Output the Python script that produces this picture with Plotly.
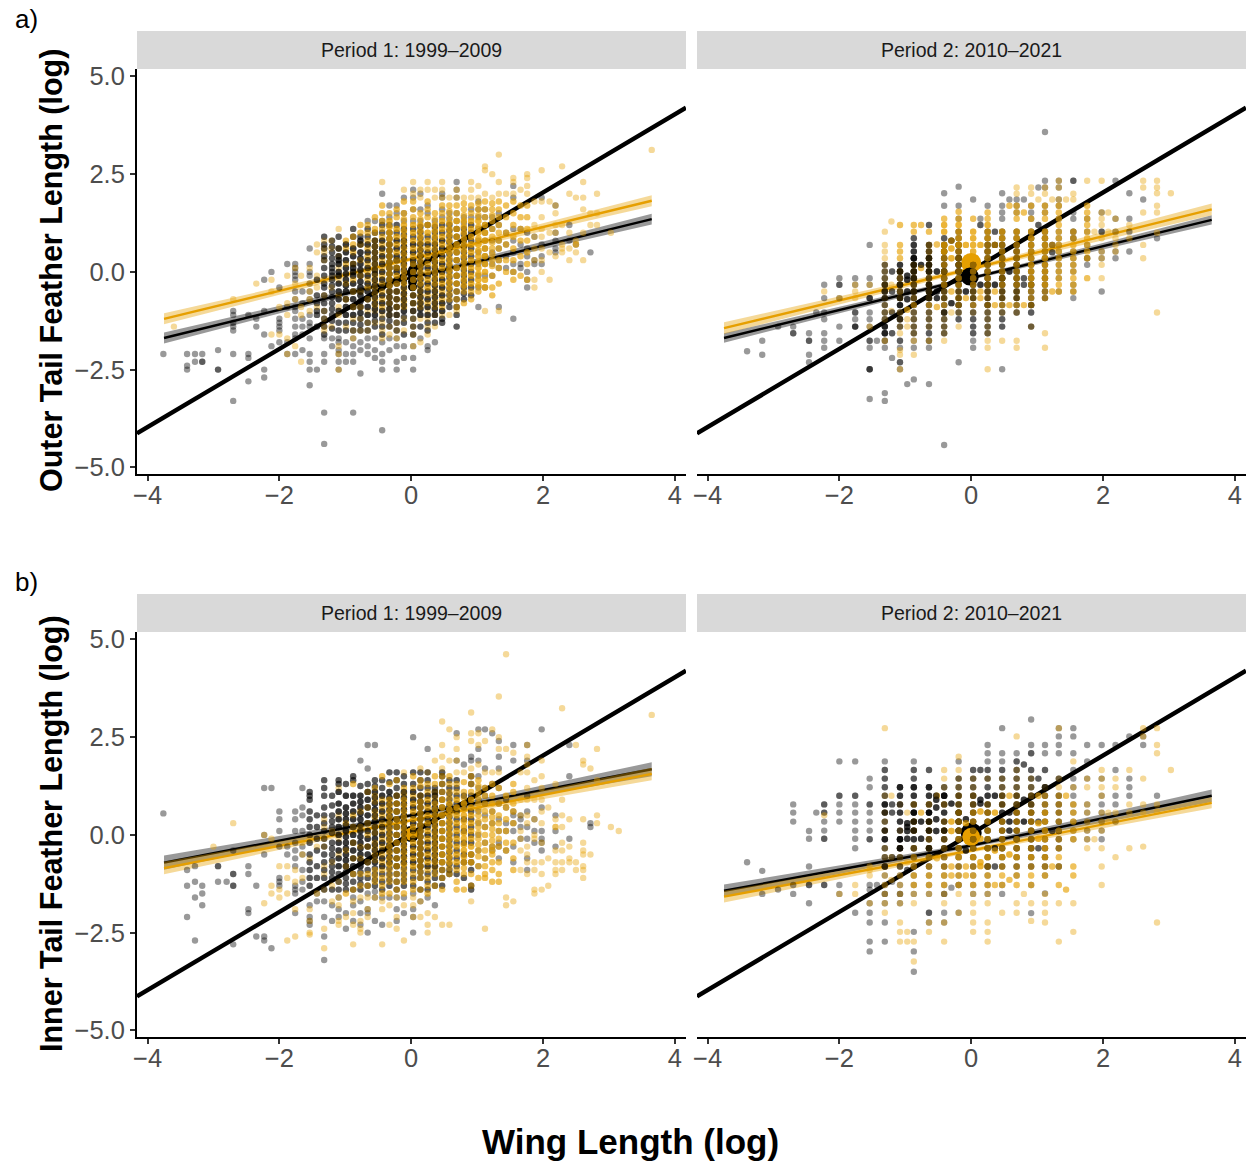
import plotly.graph_objects as go

FIT_X = [-3.75, 0, 3.65]
LINE_X = [-4.16, 4.17]
LINE_Y = [-4.13, 4.2]
XTICKS = [-4, -2, 0, 2, 4]
XTEXT = ["−4", "−2", "0", "2", "4"]
YTICKS = [5, 2.5, 0, -2.5, -5]
YTEXT = ["5.0", "2.5", "0.0", "−2.5", "−5.0"]
STRIPS = ["Period 1: 1999–2009", "Period 2: 2010–2021"]

A1_ORANGE_FIT = [-1.2, 0.33, 1.82]
A1_ORANGE_HW = [0.14, 0.05, 0.14]
A1_BLACK_FIT = [-1.69, -0.14, 1.35]
A1_BLACK_HW = [0.14, 0.05, 0.14]
A2_ORANGE_FIT = [-1.44, 0.08, 1.6]
A2_ORANGE_HW = [0.15, 0.05, 0.15]
A2_BLACK_FIT = [-1.69, -0.16, 1.33]
A2_BLACK_HW = [0.12, 0.04, 0.12]
B1_ORANGE_FIT = [-0.85, 0.38, 1.56]
B1_ORANGE_HW = [0.16, 0.05, 0.16]
B1_BLACK_FIT = [-0.71, 0.5, 1.68]
B1_BLACK_HW = [0.18, 0.05, 0.18]
B2_ORANGE_FIT = [-1.58, -0.4, 0.82]
B2_ORANGE_HW = [0.15, 0.05, 0.14]
B2_BLACK_FIT = [-1.43, -0.27, 1.0]
B2_BLACK_HW = [0.16, 0.05, 0.16]

A1_BLACK = {
-3.76:[-2.1],-3.40:[-2.1,-2.4,-2.5],-3.28:[-2.1,-2.3],-3.17:[-2.1,-2.3,-2.3],-2.93:[-2.0,-2.5,-2.5],
-2.70:[-1.0,-1.1,-1.3,-1.4,-1.5,-2.1,-3.3],-2.47:[-1.1,-2.1,-2.2,-2.8],-2.35:[-1.2,-1.4],-2.23:[-.2,-1.0,-1.6,-2.5,-2.7],
-2.12:[0.0,-1.9],-2.0:[-.4,-1.2,-1.3,-1.4,-1.5,-1.8],-1.88:[.2,-.9,-1.8,-2.1],
-1.76:[.2,.1,0,-.1,-.2,-.5,-.7,-.9,-1.0,-1.2,-1.4,-1.6,-1.7,-2.1],-1.65:[-.5,-.8,-1.2,-1.4,-1.6,-2.0],
-1.54:[.6,.2,.0,-.1,-.3,-.5,-.7,-1.1,-1.3,-1.4,-1.7,-2.1,-2.3,-2.5,-2.9],-1.43:[-.2,-.6,-.8,-1.0,-1.1,-1.4,-2.5],
-1.32:[.9,.7,.6,.4,.3,.1,-.1,-.3,-.4,-.6,-.8,-1.0,-1.2,-1.4,-1.6,-1.7,-2.1,-2.3,-3.6,-4.4],
-1.2:[.8,.5,.2,0,-.2,-.5,-.8,-1.1,-1.7,-1.9],
-1.1:[.9,.6,.4,.3,.2,.0,-.1,-.3,-.5,-.7,-1.0,-1.3,-1.5,-1.7,-1.8,-2.0,-2.1,-2.3,-2.5],
-.99:[.5,.3,-.2,-.5,-.9,-1.3,-1.8,-2.1,-2.3],
-.88:[1.1,.9,.6,.4,.2,.1,0,-.1,-.3,-.5,-.7,-.9,-1.1,-1.3,-1.5,-1.7,-1.9,-2.1,-2.3,-3.6],
-.77:[.9,.7,.5,.2,-.1,-.4,-.6,-.9,-1.2,-1.5,-1.8,-2.0,-2.6],
-.66:[1.3,1.1,.9,.7,.5,.3,.1,-.1,-.3,-.5,-.7,-.9,-1.1,-1.3,-1.5,-1.7,-1.9,-2.1],
-.55:[1.3,.8,.5,.2,-.2,-.5,-.8,-1.1,-1.4,-1.7,-2.0,-2.2],
-.44:[2.0,1.3,1.2,1.0,.8,.6,.4,.2,0,-.2,-.4,-.6,-.8,-1.0,-1.2,-1.4,-1.6,-1.8,-2.1,-2.3,-2.5,-4.05],
-.33:[1.7,1.4,1.0,.7,.4,.1,-.2,-.5,-.8,-1.1,-1.4,-1.7,-2.0],
-.22:[1.7,1.5,1.2,1.0,.8,.6,.4,.3,.1,0,-.2,-.3,-.5,-.7,-.9,-1.1,-1.3,-1.5,-1.7,-1.9,-2.3,-2.5],
-.11:[1.9,1.5,1.1,.8,.5,.2,-.1,-.4,-.7,-1.0,-1.3,-1.6,-1.9,-2.2],
0.03:[2.1,1.9,1.6,1.3,1.1,.9,.7,.5,.3,.2,0,-.2,-.4,-.6,-.8,-1.0,-1.2,-1.4,-1.6,-1.9,-2.2,-2.5],
.14:[2.0,1.6,1.3,1.0,.7,.4,.1,-.2,-.5,-.8,-1.1,-1.4,-1.7],
.25:[1.7,1.5,1.2,.9,.7,.5,.3,.1,-.1,-.3,-.5,-.7,-.9,-1.1,-1.3,-1.5,-1.9,-2.0],
.36:[1.3,1.0,.7,.4,.1,-.2,-.5,-.8,-1.1,-1.3,-1.8],
.47:[2.0,1.9,1.6,1.4,1.2,1.0,.8,.6,.4,.2,0,-.2,-.4,-.6,-.8,-1.0,-1.2,-1.3],
.58:[1.5,1.2,.9,.6,.3,0,-.3,-.6,-.9],
.69:[2.3,2.1,1.9,1.5,1.3,1.1,.9,.7,.5,.3,.1,-.1,-.3,-.5,-.7,-.9,-1.1,-1.4],
.80:[1.4,1.1,.8,.5,.2,-.1,-.4,-.7],
.91:[1.6,1.4,1.2,1.0,.8,.6,.4,.2,0,-.2,-.4,-.6],
1.02:[1.8,1.6,1.4,1.1,.8,.5,.2,-.1,-.4,-.9],
1.12:[1.6,1.4,1.2,1.0,.8,.6,.4,.2,-.1,-.4],
1.23:[1.4,1.1,.8,.5,.2,-.1],1.33:[1.5,1.2,.8,.6,.3,.1,-.9],1.44:[1.0,.7,.4,.1],
1.55:[2.2,1.9,1.1,.8,.5,.2,.0,-1.2],1.66:[1.1,.7,.2,.1],1.76:[1.0,.6,.4,.0,-.2,-.4],1.87:[.9,.3,.2],
1.98:[1.9,.7,.4,.2],2.19:[1.7,1.0,.8,.6,.5],2.4:[1.2,.8],2.5:[.7],2.72:[.5],
}
A1_BLACK_CORE = {
-1.2:[.65,.35,.1,-.1,-.35,-.65,-.95,-1.25,-1.45],-.99:[.7,.1,-.05,-.35,-.7,-1.1,-1.5],-.77:[.8,.35,.05,-.25,-.5,-.75,-1.05,-1.35],
-.55:[1.0,.65,.35,.05,-.05,-.35,-.65,-.95,-1.25],-.33:[1.2,.85,.55,.25,-.05,-.35,-.65,-.95,-1.25],-.11:[1.3,.95,.65,.35,.05,-.25,-.55,-.85,-1.15],
.14:[1.15,.85,.55,.25,-.05,-.35,-.65,-.95],.36:[1.15,.85,.55,.25,-.05,-.35,-.65,-.95],.58:[1.35,1.05,.75,.45,.15,-.15,-.45,-.75],
.80:[1.25,.95,.65,.35,.05,-.25,-.55],
}
A1_ORANGE = {
-3.6:[-1.4],-2.7:[-.7],-2.35:[-.3],-2.12:[-.2,-.5,-1.6],-2.0:[-.9,-1.6],-1.88:[-.1,-.8,-1.1,-1.7,-2.1],-1.76:[.1,-.3,-.7,-1.9],
-1.67:[-.9,-.1,-1.1,-2.3],-1.54:[.1,-.3,-.5,-.7,-1.0],-1.43:[.7,.5,-.1,-.4,-.9],-1.32:[.8,.6,.5,.3,-.2,-.6,-1.0,-1.2,-1.4,-1.5],
-1.21:[.8,.6,-.4,-1.4],-1.1:[1.1,.6,.4,.1,-.2,-.6,-.9,-1.1,-1.9,-2.1,-2.5],-.99:[.8,.6,.2,-.3,-.7,-1.4],
-.88:[.9,.7,.5,.2,-.2,-.5,-.9,-1.2,-1.5,-1.7],-.77:[1.2,1.0,.7,.3,-.1,-.5,-.9,-1.2,-1.5],-.66:[1.2,1.0,.8,.6,.4,.2,0,-.2,-.4,-.7,-1.0,-1.3,-1.5],
-.55:[1.4,1.1,.8,.5,.2,-.1,-.4,-.7,-1.0,-1.3],-.44:[2.3,1.7,1.5,1.3,1.1,.9,.7,.5,.3,.1,-.1,-.3,-.5,-.7,-.9,-1.1,-1.3,-1.5,-1.7],
-.33:[1.5,1.3,1.0,.7,.4,.1,-.2,-.5,-.8,-1.1,-1.4,-1.6],-.22:[1.6,1.4,1.1,.9,.7,.5,.3,.1,-.1,-.3,-.5,-.7,-.9,-1.1,-1.3,-1.5,-1.7],
-.11:[2.1,1.8,1.5,1.2,.9,.6,.3,0,-.3,-.6,-.9,-1.2,-1.5],0.03:[2.3,2.0,1.8,1.6,1.4,1.2,1.0,.8,.6,.4,.2,0,-.2,-.4,-.6,-.8,-1.0,-1.2,-1.4,-1.6,-1.9],
.14:[2.1,1.9,1.5,1.2,.9,.6,.3,0,-.3,-.6,-.9,-1.2,-1.8],.25:[2.3,2.1,1.8,1.6,1.4,1.2,1.0,.8,.6,.4,.2,0,-.2,-.4,-.6,-.8,-1.0,-1.2,-1.4,-1.6],
.36:[2.1,1.9,1.5,1.2,.9,.6,.3,0,-.3,-.6,-.9,-1.1,-1.4],.47:[2.3,2.1,1.9,1.7,1.5,1.3,1.1,.9,.7,.5,.3,.1,-.1,-.3,-.5,-.7,-.9,-1.1],
.58:[1.9,1.7,1.4,1.1,.8,.5,.2,-.1,-.4,-.7,-1.1],.69:[2.1,1.9,1.7,1.5,1.3,1.1,.9,.7,.5,.3,.1,-.1,-.3,-.5,-.7,-.9,-1.0],
.80:[1.9,1.6,1.3,1.0,.7,.4,.1,-.2,-.5,-.8],.91:[2.3,2.1,1.9,1.7,1.5,1.3,1.1,.9,.7,.5,.3,.1,-.1,-.3,-.5,-.7],
1.02:[2.2,1.9,1.6,1.3,1.0,.7,.4,.1,-.2,-.5],1.12:[2.7,2.6,2.0,1.8,1.6,1.4,1.2,1.0,.8,.6,.4,.2,0,-.2,-.4,-1.0],
1.23:[2.5,1.9,1.6,1.3,.9,.6,.3,-.1,-.4,-.6],1.33:[3.0,2.3,2.0,1.8,1.6,1.4,1.2,1.0,.8,.6,.3,.1,-.3,-1.0],
1.44:[2.0,1.7,1.4,1.0,.7,.3,.0],1.55:[2.4,2.3,2.0,1.8,1.5,1.2,.9,.6,.3,0,-.2],1.66:[2.1,1.7,1.4,1.1,.8,.4,-.1],
1.76:[2.5,2.4,2.2,2.0,1.7,1.4,1.1,.8,.5,.2,-.2],1.87:[1.8,1.2,.9,.6,.3,-.4,-.2],1.98:[2.6,1.8,1.4,1.1,.9,.6,.3,0],
2.1:[1.8,1.0,.5,-.2],2.19:[1.7,1.5,1.2,1.0,.4],2.29:[2.7,1.2,.7,.6,.5],2.4:[2.0,1.0,.6,.3],2.5:[1.9,.8,.7,.7,.5],
2.61:[2.3,1.9,1.6,1.0,.3],2.72:[1.5,1.2],2.82:[2.0,1.5,1.2],3.03:[1.0],3.65:[3.12],
}
A1_ORANGE_CORE = {
-.55:[1.0,.65,.35,.05,-.25,-.55,-.85],-.33:[1.15,.85,.55,.25,-.05,-.35,-.65,-.95],-.11:[1.35,1.05,.75,.45,.15,-.15,-.45,-.75],
.14:[1.35,1.05,.75,.45,.15,-.15,-.45,-.75],.36:[1.35,1.05,.75,.45,.15,-.15,-.45,-.75],.58:[1.55,1.25,.95,.65,.35,.05,-.25,-.55],
.80:[1.75,1.45,1.15,.85,.55,.25,-.05,-.35],1.02:[1.75,1.45,1.15,.85,.55,.25,-.05,-.35],1.23:[1.75,1.45,1.1,.75,.45,.15],
}
A2_BLACK = {
-3.4:[-2.03],-3.17:[-1.76,-2.12],-2.93:[-1.4],-2.7:[-1.4,-1.57,-1.57],-2.46:[-1.57,-1.76,-1.76,-2.12,-2.31],-2.35:[-1.04],
-2.23:[-.33,-.67,-1.04,-1.21,-1.57,-1.76,-1.94],-2.0:[-.16,-.33,-.33,-.67,-1.4,-1.76],
-1.76:[-.16,-.33,-1.04,-1.04,-1.21,-1.4,-1.4,-1.4],-1.54:[.69,-.16,-.33,-.67,-.67,-.67,-1.04,-1.21,-1.4,-1.76,-1.76,-1.94,-2.49,-2.49,-2.49,-3.25],
-1.43:[-1.76],-1.31:[.18,.01,-.16,-.33,-.33,-.5,-.5,-.67,-.67,-.85,-1.04,-1.21,-1.4,-1.4,-1.57,-1.57,-1.76,-1.76,-1.94,-3.1,-3.3],
-1.2:[.01,-.5,-1.04,-1.57,-2.2],-1.08:[.01,.01,.18,-.16,-.33,-.33,-.5,-.67,-.67,-.85,-.85,-1.04,-1.21,-1.21,-1.4,-1.76,-1.76,-1.94,-2.31,-2.31,-2.49],
-.97:[-.1,-.2,-.5,-.7,-2.87],-.87:[.86,.69,.52,.35,.35,.18,.18,.01,.01,-.16,-.16,-.33,-.5,-.5,-.67,-.85,-1.04,-1.21,-1.4,-1.57,-1.76,-1.94,-2.75],
-.76:[.18],-.64:[1.2,.69,.52,.35,.35,.18,.18,.01,.01,-.16,-.33,-.33,-.5,-.5,-.67,-.67,-.85,-1.04,-1.21,-1.4,-1.57,-1.76,-1.76,-1.94,-2.87],
-.52:[-.67,.01,-.5],-.41:[2.01,1.69,.86,.69,.52,.35,.18,.01,.01,-.16,-.33,-.5,-.67,-.85,-1.04,-1.04,-1.21,-1.4,-1.57,-4.43],
-.3:[.8,-.8],-.19:[2.18,1.69,1.36,1.03,.86,.69,.52,.35,.35,.18,.18,.01,.01,-.16,-.33,-.5,-.67,-.85,-.85,-1.04,-1.21,-2.31],
-.08:[-.5],.03:[1.85,.18,.01,-.16,-.33,-.5,-.67,-.85,-1.04,-1.21,-1.4,-1.57,-1.76,-1.94],
.14:[1.36,1.2,-.33],.25:[1.69,1.03,.86,.69,.52,.35,.18,.01,-.16,-.33,-.33,-.5,-.67,-.85,-.85,-1.04,-1.21,-1.4,-1.57],
.36:[1.03,.69,-.33],.47:[2.01,1.69,1.52,1.36,1.03,.86,.69,.52,.35,.18,.01,-.16,-.16,-.33,-.5,-.67,-.85,-1.04,-1.21,-1.4,-2.49],
.58:[1.85,.01],.69:[1.85,1.69,1.52,1.03,.86,.69,.52,.35,.18,.01,-.16,-.33,-.5,-.67,-.85,-1.04],.8:[1.85,-.33,-.16],
.91:[1.69,1.52,1.36,1.03,.86,.69,.52,.35,.18,.01,-.16,-.33,-.33,-.5,-.67,-.85,-.85,-1.04,-1.4],1.02:[2.16,1.2],
1.12:[3.58,2.33,2.16,1.69,1.52,1.03,.86,.69,.52,.35,.18,.01,-.16,-.33,-.5,-.67],1.23:[.5,.69],
1.33:[2.33,2.16,1.85,1.69,1.36,1.03,.86,.69,.52,.35,.18,.01,-.16,-.5],1.55:[2.33,2.33,1.52,1.36,1.03,1.03,.86,.86,.52,.35,.18,.01,-.33,-.5,-.67],
1.76:[1.36,1.03,.69,.35,.35,.18],1.98:[1.52,1.03,1.03,.52,.35,-.5],2.19:[2.33,1.36,1.03,.52,.35],2.4:[2.01,1.36,1.03,.52],2.61:[1.85],2.82:[.86],
}
A2_ORANGE = {
-2.23:[-.5],-2.0:[-.67],-1.76:[-.33,-.5,-.67],-1.54:[-.33,-1.4],-1.31:[1.03,.69,.52,.35,.18,.01,-.16,-.33,-.33,-.5,-.67,-.85,-1.04,-1.21,-1.76],
-1.21:[1.29,-.33,-1.0],-1.08:[1.2,.69,.52,.35,.01,-.16,-.33,-.5,-.67,-1.04,-1.21,-1.4,-1.57,-2.0,-2.12,-2.49],
-.97:[-.97,-1.21,-1.4],-.87:[1.2,1.03,.18,.01,-.16,-.33,-.5,-.67,-.85,-1.04,-1.21,-1.4,-1.57,-1.76,-2.12],-.76:[1.2,.1],
-.64:[1.03,.69,.52,.35,.18,.01,-.16,-.33,-.5,-.67,-.85,-1.04,-1.21,-1.4,-1.76],-.52:[.7,-.9],
-.41:[1.36,1.2,1.03,.69,.69,.52,.52,.35,.18,.01,-.16,-.33,-.5,-.67,-.85,-1.04,-1.21,-1.4,-1.57,-1.76],-.3:[.8,.6,.35,-.5,-1.04],
-.19:[1.54,1.36,1.2,1.03,.86,.69,.69,.52,.35,.18,.01,-.16,-.33,-.5,-.67,-.67,-.85,-1.04,-1.4],-.08:[.69,-.67],
.03:[1.36,1.03,.86,.69,.52,.35,.18,.01,-.16,-.33,-.5,-.67,-.85,-1.04],.14:[.69,-.5,-.67],
.25:[1.52,1.36,1.2,1.03,.86,.69,.52,.35,.18,.01,-.16,-.33,-.5,-.67,-.85,-1.04,-1.21,-1.4,-1.57,-1.76,-1.94,-2.49],.36:[.69,-.5,-.85],
.47:[1.03,.86,.69,.52,.35,.18,.01,-.16,-.33,-.5,-.67,-.85,-1.04,-1.76],.58:[1.69,-.85],
.69:[2.16,2.0,1.69,1.52,1.36,1.03,.86,.69,.52,.35,.18,.01,-.16,-.33,-.5,-.67,-.85,-1.04,-1.76,-1.94],.8:[1.52,-.85],
.91:[2.16,2.0,1.69,1.36,1.03,.86,.69,.52,.35,.18,.01,-.16,-.33,-.5,-.67,-.85,-1.4],1.02:[1.85],
1.12:[2.16,2.0,1.69,1.52,1.36,1.03,.86,.69,.52,.35,.18,.01,-.16,-.33,-.5,-.67,-1.57,-1.94],1.23:[1.85,.69,-.5],
1.33:[2.33,2.16,1.85,1.69,1.52,1.36,1.2,1.03,.86,.69,.52,.35,.18,.01,-.16,-.33,-.5],1.44:[1.85],
1.55:[2.0,1.85,1.03,.86,.69,.52,.35,.18,.01,-.16,-.33,-.5],1.76:[2.33,1.69,1.52,1.36,1.2,1.03,.86,.69,.52,.35,-.16],
1.87:[1.03],1.98:[2.33,1.52,1.36,1.2,.86,.52,.35,.18,-.16],2.08:[1.52,1.03],2.19:[1.36,1.03,.86,.69,.52],
2.4:[1.2,.86],2.61:[2.33,2.16,1.52,.69,.35],2.82:[2.33,2.16,2.01,1.69,1.52,1.0,-1.04],3.03:[2.01],
}
B1_BLACK = {
-3.76:[.55],-3.4:[-.9,-1.3,-2.1],-3.28:[-.8,-1.2,-1.6,-2.7],-3.17:[-1.3,-1.5,-1.8],-2.93:[-.8,-.8,-1.2],-2.8:[-1.2],-2.7:[-.4,-1.0,-1.0,-1.3,-1.3,-2.8],
-2.47:[-.8,-1.0,-1.9,-2.0],-2.35:[-1.3,-2.6],-2.23:[1.2,0,-.5,-2.6,-2.7],-2.12:[1.2,-2.9],-2.0:[.6,.4,.1,-.3,-1.1,-1.2,-1.3],
-1.88:[-.3,-.5],-1.76:[.6,.4,.1,-.2,-.4,-.6,-.8,-1.3,-1.4,-1.5,-2.0],
-1.65:[1.2,.7,.5,.1,-.3,-.5,-.9,-1.2,-1.4],-1.54:[1.1,1.0,.9,.6,.4,.2,.0,-.2,-.5,-.7,-.9,-1.1,-1.3,-1.8,-2.1,-2.2,-2.3],
-1.43:[.5,.2,-.1,-.4,-.8,-1.1,-1.5,-1.7],-1.32:[1.4,1.2,1.0,.7,.5,.3,.1,-.1,-.3,-.5,-.7,-.9,-1.1,-1.4,-1.7,-2.1,-2.6,-3.2],
-1.2:[.5,.2,-.2,-.5,-.8,-1.1,-1.4,-1.8,-2.2],-1.1:[1.4,1.3,1.1,.8,.6,.4,.2,0,-.2,-.4,-.6,-.8,-1.0,-1.2,-1.4,-1.6,-1.9,-2.1],
-.99:[1.3,.7,.4,.1,-.2,-.5,-.8,-1.1,-1.4,-2.0,-2.4],-.88:[1.5,1.4,1.0,.8,.6,.4,.2,0,-.2,-.4,-.6,-.8,-1.0,-1.2,-1.4,-1.6,-1.8,-2.2],
-.77:[1.9,1.0,.7,.4,.1,-.2,-.5,-.8,-1.1,-1.4,-1.7,-2.0,-2.3],-.66:[2.3,1.7,1.3,1.1,.9,.7,.5,.3,.1,-.1,-.3,-.5,-.7,-.9,-1.1,-1.3,-1.5,-1.9,-2.0,-2.5],
-.55:[2.3,1.4,1.1,.8,.5,.2,-.1,-.4,-.7,-1.0,-1.3,-1.6,-2.2],-.44:[1.4,1.2,1.0,.8,.6,.4,.2,0,-.2,-.4,-.6,-.8,-1.0,-1.2,-1.4,-1.6,-2.3],
-.33:[1.6,1.1,.8,.5,.2,-.1,-.4,-.7,-1.0,-1.3,-1.6],-.22:[1.6,1.4,1.2,1.0,.8,.6,.4,.2,0,-.2,-.4,-.6,-.8,-1.0,-1.2,-1.4,-1.6,-1.9,-2.2],
-.11:[1.5,1.1,.8,.5,.2,-.1,-.4,-.7,-1.0,-1.3,-1.6,-2.0],0.03:[2.5,1.6,1.3,1.1,.9,.7,.5,.3,.1,-.1,-.3,-.5,-.7,-.9,-1.1,-1.3,-1.5,-1.9,-2.1,-2.5],
.14:[1.6,1.4,1.0,.7,.4,.1,-.2,-.5,-.8,-1.1,-1.4,-1.7],.25:[2.2,1.6,1.4,1.2,1.0,.8,.6,.4,.2,0,-.2,-.4,-.6,-.8,-1.0,-1.2,-1.4,-1.6],
.36:[1.2,1.0,.7,.4,.1,-.2,-.5,-.8,-1.1,-1.3,-1.8],.47:[1.6,1.5,1.3,1.1,.9,.7,.5,.3,.1,-.1,-.3,-.5,-.7,-.9,-1.1,-1.3],
.58:[1.4,1.2,.9,.6,.3,0,-.3,-.6,-.9,-1.0],.69:[2.6,1.9,1.4,1.2,1.0,.8,.6,.4,.2,0,-.2,-.4,-.6,-.8,-1.0],
.80:[1.8,1.0,.7,.4,.1,-.2,-.5,-.7,-1.1],.91:[2.0,1.9,1.5,1.3,1.0,.8,.6,.4,.2,0,-.2,-.5,-.7,-.9,-1.3,-1.4],
1.02:[2.7,2.2,1.9,1.5,1.2,.9,.6,.3,0,-.4,-.8],1.12:[2.7,1.7,1.2,1.0,.8,.5,.2,-.2,-.6],1.23:[2.6,1.3,.6,.3,-.3,-.4],1.33:[2.4,2.0,1.7,1.2,.8,.4,.1,-.2,-.3,-.6],
1.44:[.9,.7,.3,.1,-.4],1.55:[2.3,1.9,.6,.5,.3,.1,-.3,-.7],1.66:[.5,.4,.2,-.1],1.76:[2.3,1.9,1.0,.6,.2,-.1,-.6,-.9],1.87:[.4,.1,-.2],
1.98:[2.7,.7,.1,-.2,-.4,-.1],2.19:[.5,.1,-.3],2.4:[2.3,1.5,-.1],2.72:[.3,.2],
}
B1_BLACK_CORE = {
-1.2:[1.0,.75,.35,.05,-.35,-.65,-.95],-.99:[1.0,.55,.25,-.05,-.35,-.65,-.95,-1.25],-.77:[1.25,.85,.55,.25,-.05,-.35,-.65,-.95,-1.25],
-.55:[1.25,.95,.65,.35,.05,-.25,-.55,-.85,-1.15,-1.45],-.33:[1.35,.95,.65,.35,.05,-.25,-.55,-.85,-1.15],-.11:[1.3,.95,.65,.35,.05,-.25,-.55,-.85,-1.15],
.14:[1.2,.85,.55,.25,-.05,-.35,-.65,-.95],.36:[1.1,.85,.55,.25,-.05,-.35,-.65,-.95],.58:[1.05,.75,.45,.15,-.15,-.45,-.75],
}
B1_ORANGE = {
-3.0:[-.3],-2.7:[.3],-2.23:[0,-1.75],-2.12:[-.1,-1.3,-1.5],-2.0:[-.8,-1.4,-1.6],-1.88:[-.8,-1.1,-1.5,-2.7],-1.76:[-.9,-1.2,-1.9,-2.6],
-1.65:[-.2,-.5,-1.1],-1.54:[-.1,-.6,-1.9,-2.2,-2.5,-2.55],-1.43:[-.3,-1.5],-1.32:[.4,.2,-.1,-.3,-.8,-1.0,-1.4,-2.4,-2.9],
-1.2:[.1,-.7,-1.3,-1.7],-1.1:[1.2,.5,-.1,-.5,-1.2,-1.6,-1.8,-2.2,-2.3],-.99:[.3,-.4,-.8,-1.5,-2.1],-.88:[1.3,.5,.2,-.2,-.6,-1.0,-1.4,-1.7,-2.0,-2.3,-2.8],
-.77:[.6,.2,-.3,-.6,-1.0,-1.3,-1.6,-2.2,-2.4,-2.5],-.66:[1.1,.7,.3,0,-.3,-.7,-1.0,-1.3,-1.6,-1.9,-2.1],-.55:[1.2,1.0,.6,.2,-.2,-.5,-.9,-1.2,-1.6],
-.44:[1.5,.9,.7,.5,.3,.1,-.1,-.3,-.5,-.7,-.9,-1.1,-1.3,-1.5,-1.7,-1.9,-2.8],-.33:[1.3,.9,.6,.3,0,-.3,-.6,-.9,-1.2,-1.5,-1.8,-2.3],
-.22:[1.4,1.0,.8,.6,.4,.2,0,-.2,-.4,-.6,-.8,-1.0,-1.2,-1.4,-1.6,-2.1,-2.4],-.11:[1.6,1.2,.9,.6,.3,0,-.3,-.6,-.9,-1.2,-1.5,-1.8,-2.7],
0.03:[1.5,1.2,1.0,.8,.6,.4,.2,0,-.2,-.4,-.6,-.8,-1.0,-1.2,-1.4,-1.6,-1.8,-2.1],.14:[1.7,1.4,1.0,.7,.4,.1,-.2,-.5,-.8,-1.1,-1.4,-1.7,-2.1],
.25:[1.6,1.3,1.1,.9,.7,.5,.3,.1,-.1,-.3,-.5,-.7,-.9,-1.1,-1.3,-1.5,-2.0,-2.3,-2.5],.36:[1.9,1.5,1.1,.8,.5,.2,-.1,-.4,-.7,-1.0,-1.3,-2.1],
.47:[2.9,2.3,2.0,1.7,1.5,1.3,1.1,.9,.7,.5,.3,.1,-.1,-.3,-.5,-.7,-.9,-1.1,-1.4,-2.3],.58:[2.7,1.9,1.5,1.1,.8,.5,.2,-.1,-.4,-.7,-1.0,-2.3],
.69:[2.5,2.2,1.9,1.6,1.3,1.1,.9,.7,.5,.3,.1,-.1,-.3,-.5,-.7,-.9,-1.2,-1.4],.80:[1.6,1.1,.8,.5,.2,-.1,-.4,-.7,-1.0,-1.4],
.91:[3.13,2.6,2.4,1.7,1.5,1.3,1.1,.9,.7,.5,.3,.1,-.1,-.3,-.5,-.7,-1.0,-1.3,-1.7],1.02:[2.6,2.3,1.8,1.4,1.1,.8,.5,.2,-.1,-.4,-.8,-1.1],
1.12:[2.4,1.6,1.2,1.0,.8,.6,.4,.2,0,-.2,-.4,-.6,-.8,-1.0,-1.1,-2.4],1.23:[2.7,1.6,1.0,.6,.3,0,-.3,-.5,-.9,-1.2],
1.33:[3.54,2.5,2.2,1.6,1.2,.8,.5,.3,.1,-.1,-.3,-.7,-1.0,-1.2],1.44:[4.62,2.2,1.0,.7,.4,.1,-.2,-.4,-1.6,-1.8],1.55:[2.1,1.3,1.1,.8,.6,.3,-.2,-.6,-.9,-1.7],
1.66:[1.6,.9,.5,.1,-.1,-.4,-.9],1.76:[2.3,2.0,1.8,1.6,1.2,.9,.5,.3,-.3,-.5,-.7,-1.0],1.87:[1.4,.9,.4,.0,-.1,-.7,-.9,-1.4,-1.5],
1.98:[1.9,1.5,1.2,.9,.6,.3,-.2,-.7,-1.4,-1.0],2.08:[.7,-.6,-1.3],2.19:[1.3,.4,.2,.2,-.4,-.7,-.9,-1.0],2.29:[3.24,.9,.5,.2,-.2,-.4,-.7,-.9],
2.4:[.4,-.3,-.6,-.7],2.5:[2.3,-.7,-.9],2.61:[1.9,1.8,.4,-.2,-.4,-.5,-.8,-1.1,-.9],2.72:[1.7,-.5],2.82:[2.2,1.4,.5,.3],3.03:[.2],
3.15:[.1],3.65:[3.07],
}
B1_ORANGE_CORE = {
-.55:[.85,.45,.05,-.35,-.65,-1.05],-.33:[.75,.45,.15,-.15,-.45,-.75,-1.05],-.11:[1.05,.75,.45,.15,-.15,-.45,-.75,-1.05],
.14:[1.25,.85,.55,.25,-.05,-.35,-.65,-.95],.36:[1.3,.95,.65,.35,.05,-.25,-.55,-.85],.58:[1.3,.95,.65,.35,.05,-.25,-.55,-.85],
.80:[1.35,.95,.65,.35,.05,-.25,-.55,-.85],1.02:[1.25,.95,.65,.35,.05,-.25,-.55],1.23:[1.3,.8,.45,.15,-.15,-.4,-.7],
}
B2_BLACK = {
-3.4:[-.7],-3.17:[-.92,-1.51],-2.93:[-1.4],-2.7:[.78,.57,.34,-1.28,-1.51],-2.46:[.1,-.1,-.81,-1.28,-1.28,-1.75],-2.35:[.57],
-2.23:[.78,.78,.57,.57,.34,.11,-.1,-.1,-1.28,-1.28],-2.0:[1.88,1.0,1.0,.78,.57,.34,-1.28,-1.51],
-1.76:[1.88,1.0,1.0,.78,.57,.34,.11,-.1,-.34,-1.99],-1.54:[1.44,1.22,.78,.78,.57,.34,.11,-.11,-.11,-1.28,-1.4,-1.75,-1.99,-2.24,-2.73,-2.98],
-1.43:[-1.28],-1.31:[1.88,1.66,1.44,1.22,1.0,.78,.78,.57,.57,.34,.11,.11,-.11,-.11,-.34,-.57,-.81,-.81,-1.04,-1.28,-1.51,-1.51,-1.75,-2.24,-2.73],
-1.2:[.78,.57,-.57,-1.2],-1.08:[1.22,1.22,1.0,.78,.57,.34,.11,-.11,-.11,-.34,-.34,-.57,-.81,-1.04,-1.28,-1.51,-1.51,-1.75],
-.97:[.3,.2,.1,-.1,-.9],-.87:[1.88,1.66,1.44,1.22,1.22,1.0,.78,.57,.57,.34,.34,.11,.11,-.11,-.34,-.57,-.81,-1.04,-1.28,-1.51,-2.48,-2.98,-3.5],
-.76:[.34,-.1],-.64:[1.66,1.22,1.22,1.0,.78,.57,.57,.34,.34,.11,.11,-.11,-.34,-.34,-.57,-.81,-1.04,-1.28,-1.51,-1.99,-1.99,-2.24],
-.53:[1.0,.9,.7,.4,.1],-.41:[1.22,1.0,1.0,.78,.57,.34,.11,.11,-.11,-.34,-.57,-.81,-1.04,-1.28,-1.51,-1.51,-1.99,-2.24],-.3:[.8,-1.35],
-.19:[1.88,1.44,1.22,1.0,.78,.57,.57,.34,.34,.11,.11,-.11,-.34,-.57,-.81,-1.04,-1.28,-1.28,-1.99],-.08:[.4,-.4],
.03:[1.66,1.44,1.22,1.0,.78,.57,.34,.11,-.11,-.34,-.57,-.81,-1.04,-1.28,-1.51],.14:[1.66,.9,.8],
.25:[2.3,2.09,1.88,1.66,1.44,1.22,1.0,.78,.57,.34,.11,-.11,-.34,-.57,-.81,-.81,-1.04,-1.28,-1.51],.36:[1.0,-.81,-.34],
.47:[2.73,2.09,1.88,1.66,1.44,1.22,1.0,.78,.57,.34,.11,-.11,-.34,-.57,-.81,-1.28,-1.51],.58:[.34,.11,.57],
.69:[2.09,1.88,1.88,1.66,1.44,1.22,1.0,.78,.57,.34,.11,-.11,-.34,-.57,-.81,-1.04],.8:[1.8,.9,.34],
.91:[2.95,2.3,2.09,2.09,1.66,1.44,1.22,1.0,.78,.57,.34,.11,-.11,-.34,-.57,-.81,-1.28,-2.0],1.02:[1.44,.34,-.34],
1.12:[2.3,2.09,1.66,1.22,1.22,1.0,.78,.57,.34,.11,-.11,-.34,-.57,-.81,-1.04,-1.5],1.23:[.1],
1.33:[2.73,2.52,2.3,2.09,1.44,1.0,.78,.57,.34,.1,-.11,-.34,-.81],1.55:[2.73,2.52,2.09,1.66,1.44,1.22,1.0,.78,.57,.34,.11,-.11],
1.76:[2.3,1.88,1.44,.78,.57,.34,.11,-.11],1.98:[2.3,1.44,1.0,.78,.57,.34,.11,-.11],2.19:[2.3,1.66,1.0,.78,.34],2.4:[2.52,1.44,1.22,1.0],2.61:[2.52,2.3],2.82:[1.0],
}
B2_ORANGE = {
-2.23:[.5],-2.0:[-1.51],-1.76:[-1.28,-1.51],-1.54:[-.9,-.81,-1.04,-1.75],-1.31:[2.73,1.0,.57,.34,.11,-.34,-.57,-.81,-1.04,-1.28,-1.51,-1.75,-1.99],-1.21:[1.0,-.57,-1.15],
-1.08:[.78,.11,-.34,-.57,-.81,-1.04,-1.28,-1.51,-1.75,-2.24,-2.48,-2.73],-.97:[.57,-.7,-2.48,-2.73],-.87:[.78,.34,.11,-.34,-.57,-.81,-1.04,-1.28,-1.51,-1.75,-2.73,-3.24],-.76:[.57],
-.64:[.78,.34,.11,-.11,-.34,-.57,-.81,-1.04,-1.28,-1.51,-2.24,-2.48],-.52:[1.0,-.6],-.41:[1.66,1.44,1.22,.78,.34,.11,-.11,-.34,-.57,-.81,-1.04,-1.28,-1.51,-1.75,-2.24,-2.73],
-.3:[.34,.1,-.81,-1.04],-.19:[2.0,1.66,1.44,1.22,1.0,.78,.57,.34,.11,-.11,-.34,-.57,-.81,-1.04,-1.28,-1.51,-1.99],-.08:[.3,-.81,-1.04],
.03:[1.44,1.22,1.0,.78,.57,.34,.11,-.11,-.34,-.57,-.81,-1.04,-1.28,-1.51,-1.75,-1.99,-2.24,-2.48],.14:[.6,-.1,-.7,-.8],
.25:[1.44,.78,.57,.34,.11,-.11,-.34,-.57,-.81,-1.04,-1.28,-1.51,-1.75,-2.24,-2.48,-2.73],.36:[.57,-.4,-1.28],.47:[1.44,1.22,1.0,.78,.34,.11,-.11,-.34,-.57,-.81,-1.04,-1.28,-1.99],
.58:[1.0,-.5,-1.15],.69:[2.52,1.66,1.44,1.22,1.0,.78,.57,.34,.11,-.11,-.34,-.57,-.81,-1.04,-1.28,-1.75,-1.99],.8:[-1.51],
.91:[1.44,1.22,1.0,.78,.57,.34,.11,-.11,-.34,-.57,-.81,-1.04,-1.28,-1.75,-2.2],1.02:[1.0,.3,-.1],1.12:[1.22,1.0,.78,.57,.34,.11,-.11,-.34,-.57,-.81,-1.04,-1.51,-1.75,-1.99,-2.24],
1.23:[-.81],1.33:[2.73,1.44,1.22,1.0,.78,.57,.34,.11,-.11,-.34,-.57,-.81,-1.28,-1.75,-2.73],1.44:[1.0,-1.4],1.55:[1.88,1.22,.78,.57,.34,.11,-.11,-.81,-1.04,-1.75,-2.48],
1.76:[1.44,1.22,.78,.57,.34,.11,-.11,-.34],1.87:[-.11],1.98:[1.66,1.44,1.22,1.0,.57,.34,.11,-.34,-.81,-1.28],2.08:[.34,.57],2.19:[1.44,1.22,.57,.34,-.57],
2.4:[1.66,.78,.57,-.34],2.61:[2.73,2.52,1.44,.78,.57,-.3],2.82:[2.73,2.3,2.09,.78,.6,-2.24],3.03:[1.66],
}
# Regions where the reference's overlap is visibly heavier, widest first: (x from, x to, y from, y to)
OVERLAP = {
 "A1_BLACK": [(-1.5, 1.0, -1.6, 1.2), (-1.1, 0.5, -1.1, 0.8)], "A1_ORANGE": [(-1.0, 1.8, -0.9, 1.8), (-0.4, 1.2, -0.4, 1.3)],
 "A2_BLACK": [(-1.5, 1.3, -1.6, 1.2), (-1.1, 0.7, -0.8, 0.8)], "A2_ORANGE": [(-1.1, 1.8, -1.0, 1.7), (-0.5, 1.2, -0.4, 1.2)],
 "B1_BLACK": [(-1.6, 1.0, -1.4, 1.6), (-1.1, 0.4, -0.8, 1.1)], "B1_ORANGE": [(-1.0, 1.6, -1.5, 1.5), (-0.4, 1.0, -0.8, 0.9)],
 "B2_BLACK": [(-1.5, 1.5, -1.0, 1.8), (-1.1, 1.0, -0.4, 1.2)], "B2_ORANGE": [(-0.9, 1.6, -1.4, 1.2), (-0.4, 1.2, -0.8, 0.6)],
}

BLACK, ORANGE = "#000000", "#E69F00"
W, H = 1247, 1163
fig = go.Figure()
px = lambda x: x / W
py = lambda y: 1 - y / H
PANELS_X = [(137, 686), (697, 1246)]
ROWS_Y = [(69, 474), (632, 1037)]

def flat(*cols_list):
    xs, ys = [], []
    for cols in cols_list:
        for x, vals in cols.items():
            for v in vals:
                xs.append(x); ys.append(v)
    return xs, ys

def add_panel(n, data, big):
    ax = "" if n == 1 else str(n)
    xa, ya = "x" + ax, "y" + ax
    common = dict(xaxis=xa, yaxis=ya, showlegend=False, hoverinfo="skip")
    fig.add_trace(go.Scatter(x=LINE_X, y=LINE_Y, mode="lines", line=dict(color=BLACK, width=4.4), **common))
    for fit, hw, col, rgba in data["fits"]:
        up = [a + b for a, b in zip(fit, hw)]
        lo = [a - b for a, b in zip(fit, hw)]
        fig.add_trace(go.Scatter(x=FIT_X + FIT_X[::-1], y=up + lo[::-1], mode="lines", fill="toself",
                                 fillcolor=rgba, line=dict(width=0), **common))
        fig.add_trace(go.Scatter(x=FIT_X, y=fit, mode="lines", line=dict(color=col, width=2.4), **common))
    for x, y, size, col in big:
        fig.add_trace(go.Scatter(x=x, y=y, mode="markers", marker=dict(color=col, size=size, line=dict(width=0)), **common))
    marker = lambda col: dict(color=col, size=6.4, opacity=0.4, line=dict(width=0))
    bx, by = flat(*data["black"])
    ox, oy = flat(*data["orange"])
    fig.add_trace(go.Scatter(x=bx, y=by, mode="markers", marker=marker(BLACK), **common))
    fig.add_trace(go.Scatter(x=ox, y=oy, mode="markers", marker=marker(ORANGE), **common))
    key = data["key"]
    for bbox, obox in zip(OVERLAP[key + "_BLACK"], OVERLAP[key + "_ORANGE"]):
        for xs, ys, box, col in ((bx, by, bbox, BLACK), (ox, oy, obox, ORANGE)):
            pts = [(a, b) for a, b in zip(xs, ys) if box[0] <= a <= box[1] and box[2] <= b <= box[3]]
            fig.add_trace(go.Scatter(x=[p[0] for p in pts], y=[p[1] for p in pts], mode="markers", marker=marker(col), **common))

GB, GO = "rgba(0,0,0,0.4)", "rgba(230,159,0,0.4)"
add_panel(1, dict(key="A1", black=[A1_BLACK, A1_BLACK_CORE], orange=[A1_ORANGE, A1_ORANGE_CORE],
                  fits=[(A1_BLACK_FIT, A1_BLACK_HW, BLACK, GB), (A1_ORANGE_FIT, A1_ORANGE_HW, ORANGE, GO)]),
          [([0.02] * 4, [-0.38, -0.25, -0.1, 0.05], 9, BLACK)])
add_panel(2, dict(key="A2", black=[A2_BLACK], orange=[A2_ORANGE],
                  fits=[(A2_BLACK_FIT, A2_BLACK_HW, BLACK, GB), (A2_ORANGE_FIT, A2_ORANGE_HW, ORANGE, GO)]),
          [([0.0], [0.23], 20, ORANGE), ([-0.02], [-0.12], 18, BLACK)])
add_panel(3, dict(key="B1", black=[B1_BLACK, B1_BLACK_CORE], orange=[B1_ORANGE, B1_ORANGE_CORE],
                  fits=[(B1_BLACK_FIT, B1_BLACK_HW, BLACK, GB), (B1_ORANGE_FIT, B1_ORANGE_HW, ORANGE, GO)]),
          [([0.0], [0.02], 16, BLACK), ([0.0], [0.02], 13, ORANGE)])
add_panel(4, dict(key="B2", black=[B2_BLACK], orange=[B2_ORANGE],
                  fits=[(B2_BLACK_FIT, B2_BLACK_HW, BLACK, GB), (B2_ORANGE_FIT, B2_ORANGE_HW, ORANGE, GO)]),
          [([0.0], [0.05], 21, BLACK), ([0.0], [-0.05], 18, ORANGE)])

FONT = "Liberation Sans"
layout = dict(width=W, height=H, margin=dict(l=0, r=0, t=0, b=0, autoexpand=False), paper_bgcolor="white", plot_bgcolor="white",
              font=dict(family=FONT), showlegend=False)
shapes, ann = [], []
n = 0
for r, (yt, yb) in enumerate(ROWS_Y):
    for c, (xl, xr) in enumerate(PANELS_X):
        n += 1
        ax = "" if n == 1 else str(n)
        layout["xaxis" + ax] = dict(domain=[px(xl), px(xr)], range=[-4.16, 4.17], anchor="y" + ax, tickvals=XTICKS,
                                    ticktext=XTEXT, ticks="outside", ticklen=5, tickwidth=1.5, tickcolor="#333333",
                                    showline=True, linecolor="black", linewidth=2, showgrid=False, zeroline=False,
                                    ticklabelstandoff=-8, automargin=False,
                                    tickfont=dict(size=25.5, color="#4D4D4D", family=FONT))
        ya = dict(domain=[py(yb), py(yt)], range=[-5.17, 5.19], anchor="x" + ax, showgrid=False, zeroline=False, automargin=False)
        if c == 0:
            ya.update(tickvals=YTICKS, ticktext=YTEXT, ticks="outside", ticklen=5, tickwidth=1.5, tickcolor="#333333",
                      showline=True, linecolor="black", linewidth=2, tickfont=dict(size=25.5, color="#4D4D4D", family=FONT))
        else:
            ya.update(visible=False)
        layout["yaxis" + ax] = ya
        shapes.append(dict(type="rect", xref="paper", yref="paper", x0=px(xl), x1=px(xr), y0=py(yt), y1=py(yt - 38),
                           fillcolor="#D9D9D9", line=dict(width=0), layer="below"))
        ann.append(dict(text=STRIPS[c], xref="paper", yref="paper", x=px((xl + xr) / 2), y=py(yt - 19), showarrow=False,
                        font=dict(size=19.5, color="#1A1A1A", family=FONT), xanchor="center", yanchor="middle"))
ann += [
    dict(text="a)", xref="paper", yref="paper", x=px(13), y=py(19), showarrow=False, xanchor="left", yanchor="middle",
         font=dict(size=26, color="black", family=FONT)),
    dict(text="b)", xref="paper", yref="paper", x=px(13), y=py(582), showarrow=False, xanchor="left", yanchor="middle",
         font=dict(size=26, color="black", family=FONT)),
    dict(text="<b>Outer Tail Feather Length (log)</b>", textangle=-90, xref="paper", yref="paper", x=px(51), y=py(271),
         showarrow=False, font=dict(size=30.5, color="black", family=FONT), xanchor="center", yanchor="middle"),
    dict(text="<b>Inner Tail Feather Length (log)</b>", textangle=-90, xref="paper", yref="paper", x=px(51), y=py(834),
         showarrow=False, font=dict(size=30.5, color="black", family=FONT), xanchor="center", yanchor="middle"),
    dict(text="<b>Wing Length (log)</b>", xref="paper", yref="paper", x=px(630), y=py(1141), showarrow=False,
         font=dict(size=35, color="black", family=FONT), xanchor="center", yanchor="middle"),
]
layout["shapes"] = shapes
layout["annotations"] = ann
fig.update_layout(**layout)
fig.write_html("out.html", config={"displayModeBar": False}, post_script="document.body.style.margin='0';")
